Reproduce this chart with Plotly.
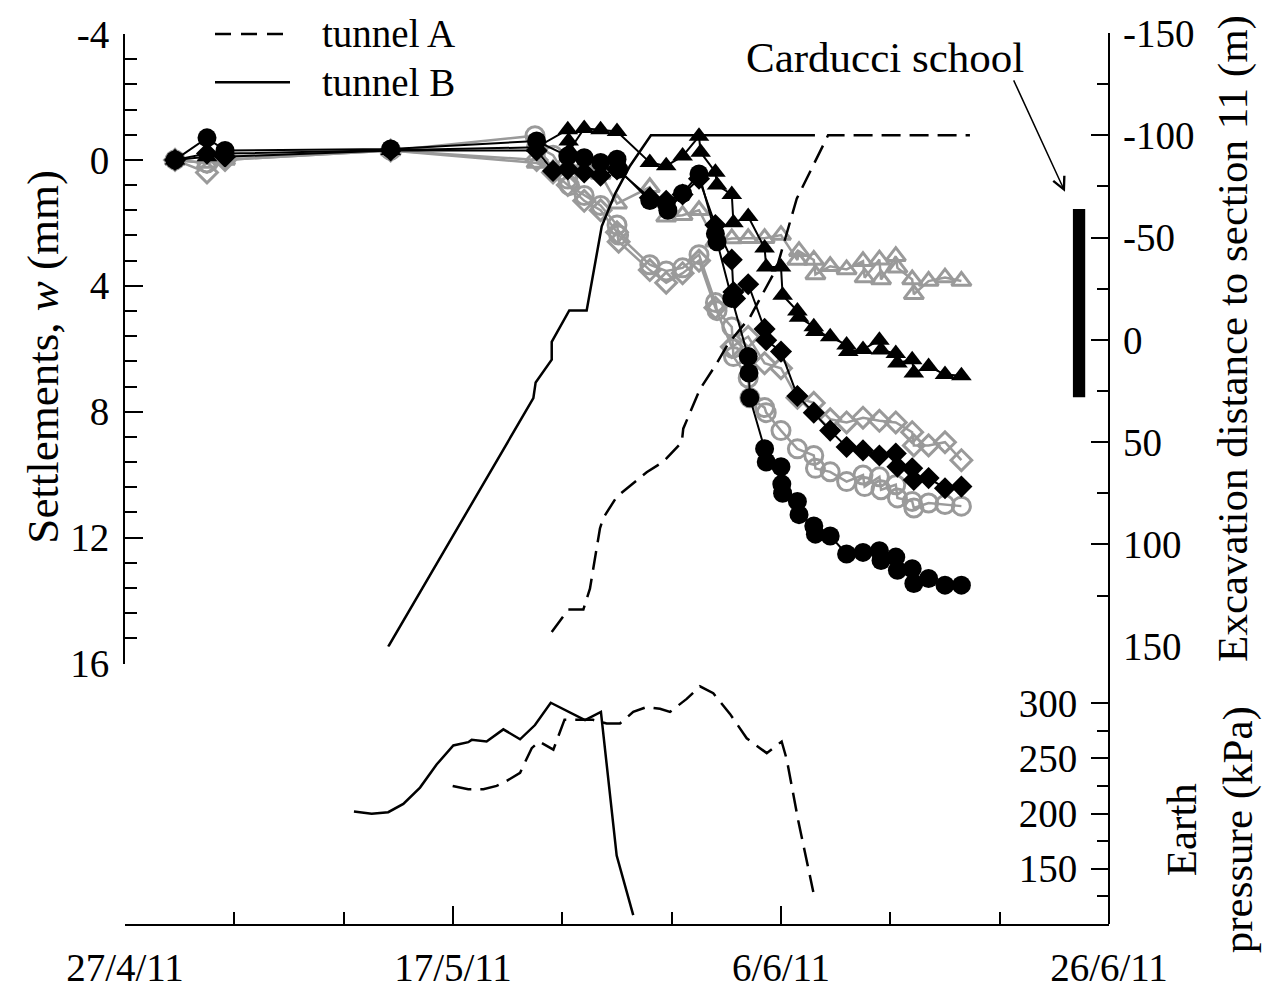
import plotly.graph_objects as go

# ---------------------------------------------------------------------------
# Time is expressed in days after 27 April 2011
# ---------------------------------------------------------------------------
date_tickvals = [0, 20, 40, 60]
date_ticktext = ["27/4/11", "17/5/11", "6/6/11", "26/6/11"]

settle_tickvals = [-4, 0, 4, 8, 12, 16]
settle_ticktext = ["-4", "0", "4", "8", "12", "16"]
exc_tickvals = [-150, -100, -50, 0, 50, 100, 150]
exc_ticktext = ["-150", "-100", "-50", "0", "50", "100", "150"]
ep_tickvals = [150, 200, 250, 300]

# Settlement readings (mm, positive downward)
bc_day = [3.05, 5.0, 6.1, 16.2, 25.1, 27.0, 28.0, 29.0, 30.0, 30.1, 32.0, 33.0, 33.1,
          34.0, 35.0, 36.0, 36.1, 37.0, 38.0, 38.05, 38.1, 39.0, 39.1, 40.0, 40.05,
          40.1, 41.0, 41.1, 42.0, 42.1, 43.0, 44.0, 45.0, 46.0, 46.1, 47.0, 47.1,
          48.0, 48.1, 49.0, 50.0, 51.0]
bc_w = [0.0, -0.7, -0.3, -0.35, -0.6, -0.12, -0.07, 0.08, -0.02, 0.3, 1.29, 1.39, 1.6,
        1.07, 0.45, 2.35, 2.6, 4.4, 6.25, 6.77, 7.56, 9.18, 9.6, 9.75, 10.3,
        10.59, 10.85, 11.27, 11.63, 11.89, 11.95, 12.52, 12.47, 12.42, 12.73, 12.62, 13.04,
        12.99, 13.46, 13.3, 13.51, 13.51]

bd_day = [3.05, 5.0, 6.1, 16.2, 25.1, 26.1, 27.0, 28.0, 29.0, 30.0, 32.0, 33.0, 34.0,
          35.0, 36.0, 37.0, 37.1, 37.2, 38.0, 39.0, 39.1, 40.0, 41.0, 42.0, 43.0, 44.0,
          45.0, 46.0, 47.0, 47.1, 48.0, 48.1, 49.0, 50.0, 51.0]
bd_w = [0.0, -0.2, -0.1, -0.3, -0.3, 0.35, 0.3, 0.4, 0.5, 0.3, 1.2, 1.3, 1.1,
        0.6, 2.07, 3.17, 4.2, 4.4, 3.95, 5.37, 5.73, 6.09, 7.5, 8.03, 8.6, 9.12,
        9.23, 9.39, 9.33, 9.75, 9.8, 10.17, 10.11, 10.43, 10.38]

bt_day = [3.05, 5.0, 6.1, 16.2, 25.1, 27.0, 27.05, 27.1, 28.0, 29.0, 30.0, 32.0, 33.0,
          34.0, 35.0, 35.1, 36.0, 36.1, 37.0, 37.1, 38.0, 39.0, 39.1, 40.0, 40.1, 41.0,
          41.1, 42.0, 42.1, 43.0, 44.0, 44.1, 45.0, 46.0, 46.1, 47.0, 47.1, 48.0, 48.1,
          49.0, 50.0, 51.0]
bt_w = [0.0, -0.1, -0.2, -0.3, -0.4, -0.96, -0.6, -0.3, -1.0, -0.96, -0.9, 0.08, 0.19,
        -0.12, -0.75, -0.24, 0.39, 0.8, 1.1, 2.0, 1.8, 2.8, 3.4, 3.4, 4.3, 4.8,
        5.0, 5.3, 5.45, 5.62, 5.88, 6.09, 6.02, 5.73, 6.04, 6.15, 6.45, 6.35, 6.77,
        6.56, 6.82, 6.86]

gc_day = [3.05, 5.0, 6.1, 16.2, 25.0, 25.1, 26.1, 27.0, 27.1, 28.0, 29.0, 30.0, 30.1,
          32.0, 33.0, 34.0, 35.0, 36.0, 36.1, 37.0, 37.05, 37.1, 38.0, 38.1, 39.0, 39.1,
          40.0, 41.0, 42.0, 42.1, 43.0, 44.0, 45.0, 45.1, 46.0, 46.1, 47.0, 47.1, 48.0,
          48.1, 49.0, 50.0, 51.0]
gc_w = [0.0, 0.1, -0.1, -0.3, -0.77, -0.43, -0.15, 0.61, 0.82, 1.13, 1.45, 2.07, 2.39,
        3.33, 3.53, 3.43, 3.01, 4.53, 4.79, 5.31, 5.99, 6.25, 6.93, 7.56, 7.87, 8.03,
        8.6, 9.18, 9.39, 9.8, 9.91, 10.22, 10.01, 10.38, 10.07, 10.48, 10.32, 10.74, 10.85,
        11.06, 10.9, 10.95, 11.0]

gd_day = [3.05, 5.0, 6.1, 16.2, 25.1, 26.1, 27.0, 28.0, 29.0, 30.0, 30.1, 32.0, 33.0,
          34.0, 35.0, 36.0, 37.0, 38.0, 39.0, 40.0, 41.0, 42.0, 43.0, 44.0, 45.0, 46.0,
          47.0, 48.0, 48.1, 49.0, 50.0, 51.0]
gd_w = [0.0, 0.4, 0.0, -0.3, 0.0, 0.4, 0.8, 1.3, 1.6, 2.3, 2.6, 3.5, 3.9,
        3.6, 3.2, 4.7, 5.94, 5.62, 6.46, 6.62, 7.56, 7.72, 8.24, 8.34, 8.19, 8.29,
        8.34, 8.65, 9.07, 9.07, 8.97, 9.54]

gt_day = [3.05, 5.0, 6.1, 16.2, 25.1, 26.1, 27.0, 28.0, 29.0, 30.0, 32.0, 33.0, 34.0,
          35.0, 36.0, 37.0, 38.0, 39.0, 40.0, 41.0, 41.1, 42.0, 42.1, 43.0, 44.0, 45.0,
          45.1, 46.0, 46.1, 47.0, 47.1, 48.0, 48.1, 49.0, 50.0, 51.0]
gt_w = [0.0, 0.1, 0.0, -0.3, 0.1, 0.3, 0.19, 0.19, 0.45, 1.39, 0.87, 1.81, 1.76,
        1.6, 2.6, 2.5, 2.49, 2.49, 2.39, 3.18, 2.9, 3.18, 3.64, 3.38, 3.48, 3.22,
        3.74, 3.17, 3.8, 3.06, 3.43, 3.8, 4.27, 3.85, 3.74, 3.85]

# Excavation face distance to section 11 (m)
exc_B_day = [16.05, 24.9, 25.04, 26.02, 26.02, 27.09, 28.15, 29.07, 29.88, 30.79, 32.07, 42.07]
exc_B_m = [150, 28.5, 20.8, 9.7, 1.0, -14.4, -14.4, -55.5, -71.4, -85.0, -100, -100]
exc_A_day = [26.02, 27.03, 27.95, 28.35, 28.96, 29.16, 29.98, 31.81, 32.82, 33.95, 34.04,
             35.06, 36.08, 36.79, 38.11, 39.74, 40.96, 42.87, 51.52]
exc_A_m = [142.8, 131.8, 131.8, 121.6, 92.2, 87.1, 76.7, 64.7, 59.6, 50.0, 43.4,
           24.1, 11.5, 1.8, -11.1, -35.2, -69.0, -100, -100]

# Earth pressure at the face (kPa)
ep_B_day = [13.96, 15.04, 16.05, 16.97, 17.99, 19.0, 20.02, 20.93, 21.14, 22.05, 23.07,
            24.09, 25.0, 25.96, 28.05, 29.02, 29.98, 30.99]
ep_B = [201.8, 199.7, 201.2, 208.7, 223.5, 244.4, 261.6, 264.6, 266.7, 265.2, 276.2,
        267.2, 280.1, 300.3, 284.6, 292.0, 162.0, 108.0]
ep_A_day = [19.98, 20.93, 21.85, 22.66, 23.27, 24.09, 24.8, 25.26, 26.12, 26.8, 28.54,
            29.37, 30.18, 30.99, 31.81, 32.62, 33.23, 34.25, 35.06, 35.87, 36.89, 37.91,
            38.72, 39.13, 40.04, 40.35, 41.05, 41.97]
ep_A = [225, 222, 222, 225, 229.5, 236.9, 259.2, 265.2, 257.8, 285, 284.8,
        281.5, 281.5, 292, 296.4, 294.9, 292, 303.8, 315.2, 308.9, 290.2, 268.1,
        259.2, 254.7, 265.2, 249.1, 193.8, 129]

# Extent of the Carducci school along the alignment (m)
school_extent = [-64, 28]

# ---------------------------------------------------------------------------
FONT = "Liberation Serif, Times New Roman, serif"
GRAY = "#9a9a9a"
W, H = 1273, 1001
ML, MR, MT, MB = 125, 164, 32, 66
PW, PH = W - ML - MR, H - MT - MB


def px(xp):
    return (xp - ML) / PW


def py(yp):
    return (H - MB - yp) / PH


fig = go.Figure()

settle_series = [
    (gd_day, gd_w, "diamond-open", GRAY, 16),
    (gt_day, gt_w, "triangle-up-open", GRAY, 17),
    (gc_day, gc_w, "circle-open", GRAY, 18),
    (bd_day, bd_w, "diamond", "black", 17),
    (bt_day, bt_w, "triangle-up", "black", 18),
    (bc_day, bc_w, "circle", "black", 19),
]
for d, w, sym, col, size in settle_series:
    open_marker = sym.endswith("open")
    fig.add_trace(go.Scatter(
        x=d, y=w, xaxis="x", yaxis="y", mode="lines+markers",
        line=dict(color=col, width=2.5 if open_marker else 2),
        marker=dict(symbol=sym, size=size, color=col,
                    line=dict(color=col, width=3 if open_marker else 0)),
        showlegend=False, hoverinfo="skip",
    ))

DASH = "19px,9px"
fig.add_trace(go.Scatter(x=exc_B_day, y=exc_B_m, xaxis="x", yaxis="y2", mode="lines",
                         line=dict(color="black", width=2.5), showlegend=False))
fig.add_trace(go.Scatter(x=exc_A_day, y=exc_A_m, xaxis="x", yaxis="y2", mode="lines",
                         line=dict(color="black", width=2.5, dash=DASH), showlegend=False))
fig.add_trace(go.Scatter(x=ep_B_day, y=ep_B, xaxis="x", yaxis="y3", mode="lines",
                         line=dict(color="black", width=2.5), showlegend=False))
fig.add_trace(go.Scatter(x=ep_A_day, y=ep_A, xaxis="x", yaxis="y3", mode="lines",
                         line=dict(color="black", width=2.5, dash=DASH), showlegend=False))

tickfont = dict(family=FONT, size=39, color="black")
axis_common = dict(showgrid=False, zeroline=False, linecolor="black",
                   linewidth=2, tickwidth=2, tickcolor="black",
                   ticklen=18, tickfont=tickfont)

y_split = py(654)

fig.update_layout(
    width=W, height=H,
    margin=dict(l=ML, r=MR, t=MT, b=MB),
    paper_bgcolor="white", plot_bgcolor="rgba(0,0,0,0)",
    xaxis=dict(domain=[0, 1], anchor="y3", range=[0, 60.0005], tickmode="array",
               tickvals=date_tickvals, ticktext=date_ticktext, ticklabelstandoff=8,
               ticks="inside", showline=True,
               minor=dict(dtick=20 / 3, tick0=0, ticks="inside", ticklen=12,
                          tickwidth=2, tickcolor="black"),
               **axis_common),
    yaxis=dict(domain=[py(671), py(33)], anchor="x", side="left", range=[16, -4],
               tickmode="array", tickvals=settle_tickvals, ticktext=settle_ticktext,
               ticklabelstandoff=6, ticks="inside", showline=True,
               minor=dict(dtick=0.8, tick0=0, ticks="inside", ticklen=12,
                          tickwidth=2, tickcolor="black"),
               **axis_common),
    yaxis2=dict(domain=[y_split, 1], anchor="x", side="right", range=[150, -150],
                tickmode="array", tickvals=exc_tickvals, ticktext=exc_ticktext,
                ticklabelstandoff=13, ticks="inside", showline=False,
                minor=dict(tickmode="array", tickvals=[-125, -75, -25, 25, 75, 125],
                           ticks="inside", ticklen=12, tickwidth=2, tickcolor="black"),
                **axis_common),
    # earth-pressure scale sits on the right spine, labelled towards the plot
    yaxis3=dict(domain=[0, y_split], anchor="free", position=1, side="left",
                range=[100, 351], tickmode="array", tickvals=ep_tickvals,
                ticks="outside", ticklabelstandoff=6, showline=False,
                minor=dict(tickmode="array", tickvals=[125, 175, 225, 275],
                           ticks="outside", ticklen=12, tickwidth=2, tickcolor="black"),
                **axis_common),
    showlegend=False,
)

# Continuous right-hand spine shared by the two right scales
fig.add_shape(type="line", xref="paper", yref="paper", x0=1, x1=1, y0=0, y1=1,
              line=dict(color="black", width=2))

# School footprint bar on the excavation-distance scale
fig.add_shape(type="rect", xref="x", yref="y2", x0=57.8, x1=58.55,
              y0=school_extent[0], y1=school_extent[1],
              fillcolor="black", line=dict(width=0))

# Legend (line samples + labels)
fig.add_shape(type="line", xref="paper", yref="paper", x0=px(215), x1=px(290),
              y0=py(33), y1=py(33), line=dict(color="black", width=2.5, dash="16px,10px"))
fig.add_shape(type="line", xref="paper", yref="paper", x0=px(215), x1=px(290),
              y0=py(82), y1=py(82), line=dict(color="black", width=2.5))
legend_font = dict(family=FONT, size=39, color="black")
fig.add_annotation(xref="paper", yref="paper", x=px(320), y=py(33), text="tunnel A",
                   showarrow=False, xanchor="left", yanchor="middle", font=legend_font)
fig.add_annotation(xref="paper", yref="paper", x=px(320), y=py(82), text="tunnel B",
                   showarrow=False, xanchor="left", yanchor="middle", font=legend_font)

title_font = dict(family=FONT, size=43, color="black")
fig.add_annotation(xref="paper", yref="paper", x=px(885), y=py(57), text="Carducci school",
                   showarrow=False, xanchor="center", yanchor="middle", font=title_font)
fig.add_annotation(xref="paper", yref="paper", x=px(1065), y=py(193), text="",
                   showarrow=True, axref="pixel", ayref="pixel", ax=-52, ay=-113,
                   arrowhead=5, arrowsize=1.6, arrowwidth=1.5, arrowcolor="black")

# Axis titles
fig.add_annotation(xref="paper", yref="paper", x=px(43), y=py(360),
                   text="Settlements, <i>w</i> (mm)", textangle=-90, showarrow=False,
                   xanchor="center", yanchor="middle",
                   font=dict(family=FONT, size=45, color="black"))
fig.add_annotation(xref="paper", yref="paper", x=px(1233), y=py(342),
                   text="Excavation distance to section 11 (m)", textangle=-90,
                   showarrow=False, xanchor="center", yanchor="middle", font=title_font)
fig.add_annotation(xref="paper", yref="paper", x=px(1210), y=py(840),
                   text="Earth<br>pressure (kPa)", textangle=-90, showarrow=False,
                   xanchor="center", yanchor="middle", align="center", font=title_font)

fig.write_html("out.html")
